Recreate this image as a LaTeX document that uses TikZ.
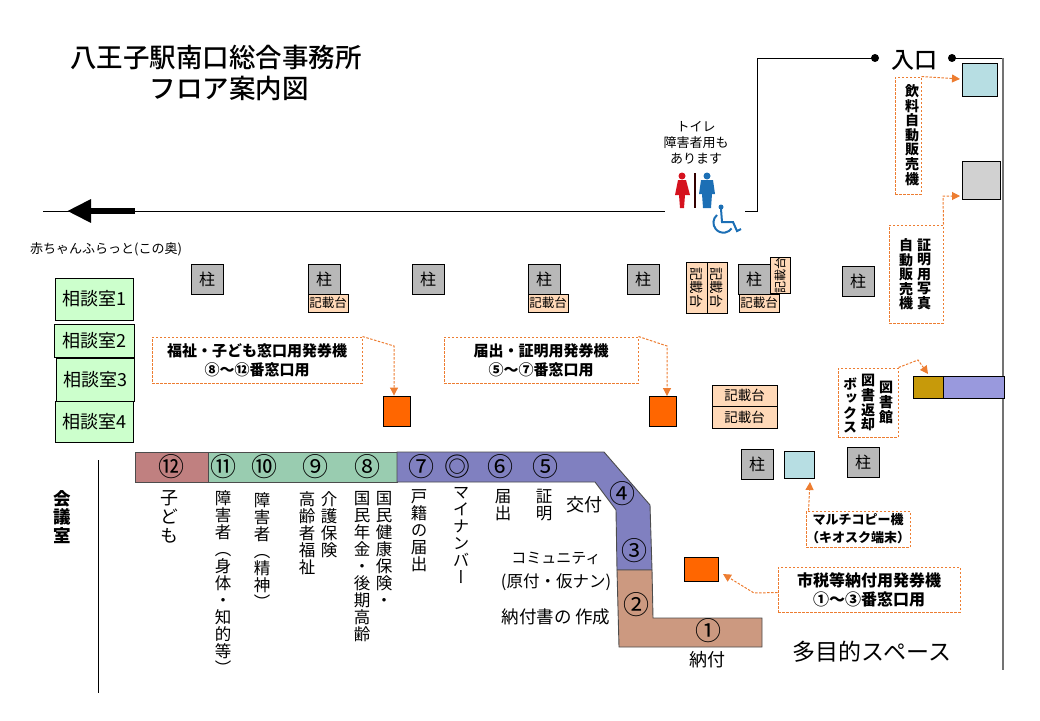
\documentclass[tikz,border=0pt]{standalone}
\usepackage{fontspec}
\setmainfont{Noto Sans CJK JP}
\newfontfamily\jpv[RawFeature=+vert]{Noto Sans CJK JP}
\newfontfamily\jpm{Noto Sans CJK JP Medium}
\usetikzlibrary{arrows.meta}
\definecolor{notecol}{HTML}{ED7D31}
\definecolor{ticketcol}{HTML}{FF6600}
\definecolor{deskcol}{HTML}{FFD9B8}
\definecolor{roomcol}{HTML}{CCFFCC}
\definecolor{pillarcol}{HTML}{B8B8B8}
\definecolor{aquacol}{HTML}{B7DEE3}
\definecolor{goldcol}{HTML}{C79A0A}
\definecolor{lilaccol}{HTML}{9999DD}
\definecolor{redcol}{HTML}{C08080}
\definecolor{greencol}{HTML}{99CCB0}
\definecolor{bluecol}{HTML}{8080C0}
\definecolor{browncol}{HTML}{CC9980}
\definecolor{womancol}{HTML}{D5121E}
\definecolor{mancol}{HTML}{1C6FB5}

\begin{document}
\begin{tikzpicture}[x=1pt,y=-1pt,line width=0.9pt,
  every node/.style={inner sep=0pt},
  wall/.style={line width=1pt,black},
  pillar/.style={rectangle,draw=black,fill=pillarcol,minimum width=32pt,minimum height=30pt,font=\fontsize{16}{18}\selectfont},
  desk/.style={rectangle,draw=black,fill=deskcol,font=\fontsize{12.5}{14}\selectfont},
  room/.style={rectangle,draw=black,fill=roomcol,minimum width=78pt,font=\fontsize{18}{20}\selectfont},
  ticket/.style={rectangle,draw=black,fill=ticketcol,minimum width=27pt,minimum height=30pt},
  note/.style={rectangle,draw,color=notecol,text=black,line width=1pt,dash pattern=on 2.5pt off 1.5pt,align=center,font=\fontsize{15}{19}\selectfont\bfseries},
  notearrow/.style={draw=notecol,line width=1pt,dash pattern=on 2.5pt off 1.5pt,-{Triangle[length=8pt,width=8pt]}},
  num/.style={font=\fontsize{26}{28}\selectfont},
  vlabel/.style={anchor=north,align=center,font=\jpv\fontsize{16.5}{17}\selectfont},
  vnote/.style={anchor=north,align=center,font=\jpv\bfseries\fontsize{14}{14.6}\selectfont},
  label/.style={font=\fontsize{16}{18}\selectfont}]

\useasboundingbox (0,0) rectangle (1040,720);

% Titolo
\node (title1) at (216,57) {\fontsize{26.5}{28}\selectfont\jpm 八王子駅南口総合事務所};
\node (title2) at (229,88) {\fontsize{26.5}{28}\selectfont\jpm フロア案内図};

% Pareti e ingresso
\node (entry) at (914,60) {\fontsize{23}{25}\selectfont\jpm 入口};
\fill (875,58) circle (4pt) coordinate (dotl);
\fill (952,58) circle (4pt) coordinate (dotr);
\coordinate (wallcornerl) at (757,58);
\coordinate (wallstub) at (757,211);
\coordinate (wallstubend) at (745,211);
\coordinate (wallcornerr) at (1003,58);
\coordinate (wallbottom) at (1003,670);
\coordinate (corridorl) at (43,211);
\coordinate (corridorr) at (665,211);
\coordinate (arrowa) at (135,211);
\coordinate (arrowb) at (67,211);
\coordinate (meetingtop) at (98,460);
\coordinate (meetingbottom) at (98,693);
\draw[wall] (dotl) -- (wallcornerl) -- (wallstub) -- (wallstubend);
\draw[wall] (dotr) -- (wallcornerr);
\draw[line width=1.5pt,black!55] (wallcornerr) -- (wallbottom);
\draw[wall] (corridorl) -- (corridorr);
\draw[line width=6pt,-{Triangle[length=24pt,width=22pt]}] (arrowa) -- (arrowb);
\draw[wall] (meetingtop) -- (meetingbottom);

% Toilette
\node[align=center,font=\fontsize{13}{16}\selectfont] (toilet) at (696,143) {トイレ\\障害者用も\\あります};
\fill[womancol] (682,176) circle (3.5pt);
\fill[womancol] (678,180) -- (686,180) -- (690,195) -- (685,195) -- (684,208) -- (680,208) -- (679,195) -- (675,195) -- cycle;
\fill[black!80!red] (694,173) rectangle (696,208);
\fill[mancol] (707,176) circle (3.5pt);
\fill[mancol] (701,180) -- (713,180) -- (715,194) -- (712,194) -- (711,208) -- (703,208) -- (702,194) -- (699,194) -- cycle;
\fill[mancol] (721,207) circle (2.5pt);
\draw[mancol,line width=2pt] (721,209) -- (722,222) -- (733,222) -- (737,231) -- (741,229);
\draw[mancol,line width=2pt] (717,215) arc[start angle=130,end angle=325,radius=10pt];

% Pilastri e banchi
\node[pillar] (pillar1) at (207,279) {柱};
\node[pillar] (pillar2) at (324,279) {柱};
\node[pillar] (pillar3) at (428,279) {柱};
\node[pillar] (pillar4) at (544,279) {柱};
\node[pillar] (pillar5) at (643,279) {柱};
\node[pillar] (pillar6) at (754,279) {柱};
\node[pillar] (pillar7) at (858,281) {柱};
\node[pillar] (pillar8) at (757,464) {柱};
\node[pillar] (pillar9) at (863,462) {柱};
\node[desk,minimum width=40pt,minimum height=18pt] (desk1) at (328,303) {記載台};
\node[desk,minimum width=40pt,minimum height=18pt] (desk2) at (548,303) {記載台};
\node[desk,minimum width=40pt,minimum height=18pt] (desk3) at (759,303) {記載台};
\node[desk,minimum width=51pt,minimum height=21pt,rotate=-90,font=\fontsize{13.5}{15}\selectfont] (desk4) at (696.5,287.5) {記載台};
\node[desk,minimum width=51pt,minimum height=20pt,rotate=-90,font=\fontsize{13.5}{15}\selectfont] (desk5) at (717,287.5) {記載台};
\node[desk,minimum width=36pt,minimum height=20pt,rotate=90,font=\fontsize{12}{14}\selectfont] (desk6) at (780,275) {記載台};
\node[desk,minimum width=65pt,minimum height=21pt,font=\fontsize{13.5}{15}\selectfont] (desk7) at (744.5,395.5) {記載台};
\node[desk,minimum width=65pt,minimum height=22pt,font=\fontsize{13.5}{15}\selectfont] (desk8) at (744.5,417) {記載台};

% Sale
\node (baby) at (106,249) {\fontsize{13}{15}\selectfont 赤ちゃんふらっと(この奥)};
\node[room,minimum height=42pt] (room1) at (94,299) {相談室1};
\node[room,minimum height=33pt,minimum width=80pt] (room2) at (94,340.5) {相談室2};
\node[room,minimum height=43pt] (room3) at (95,379.5) {相談室3};
\node[room,minimum height=41pt] (room4) at (94,421.5) {相談室4};
\node[anchor=north,align=center,font=\jpv\bfseries\fontsize{17.5}{18.5}\selectfont] (meeting) at (62,490) {会\\議\\室};

% Macchine
\node[rectangle,draw=black,fill=aquacol,minimum width=35pt,minimum height=33pt] (drink) at (979.5,79.5) {};
\node[rectangle,draw=black,fill=black!18,minimum width=38pt,minimum height=38pt] (photo) at (981,180) {};
\node[rectangle,draw=black,fill=aquacol,minimum width=30pt,minimum height=27pt] (copier) at (799,464.5) {};
\node[rectangle,draw=black,fill=goldcol,minimum width=30pt,minimum height=22pt] (bookbox) at (928,387) {};
\node[rectangle,draw=black,fill=lilaccol,minimum width=61pt,minimum height=22pt] (bookdesk) at (973.5,387) {};
\node[ticket] (ticket1) at (397,411) {};
\node[ticket] (ticket2) at (662.5,411.5) {};
\node[ticket,minimum width=34pt,minimum height=24pt] (ticket3) at (701,569) {};

% Cartelli
\node[note,minimum width=26pt,minimum height=117pt] (drinknote) at (908,135.5) {};
\node[vnote] (drinktext) at (912,84) {飲\\料\\自\\動\\販\\売\\機};
\node[note,minimum width=54pt,minimum height=98pt] (photonote) at (916,274) {};
\node[vnote] (phototext1) at (924,238) {証\\明\\用\\写\\真};
\node[vnote] (phototext2) at (906,238) {自\\動\\販\\売\\機};
\node[note,minimum width=60pt,minimum height=69pt] (booknote) at (868,402.5) {};
\node[vnote] (booktext1) at (886,381) {図\\書\\館};
\node[vnote] (booktext2) at (868,374) {図\\書\\返\\却};
\node[vnote] (booktext3) at (850,377) {ボ\\ッ\\ク\\ス};
\node[note,minimum width=210pt,minimum height=46pt] (welfarenote) at (257,360) {福祉・子ども窓口用発券機\\⑧～⑫番窓口用};
\node[note,minimum width=194pt,minimum height=46pt] (certnote) at (541,360) {届出・証明用発券機\\⑤～⑦番窓口用};
\node[note,minimum width=98pt,minimum height=36pt,font=\fontsize{13}{18}\selectfont\bfseries] (copynote) at (858,529) {マルチコピー機\\（キオスク端末）};
\node[note,minimum width=182pt,minimum height=45pt,font=\fontsize{16}{19}\selectfont\bfseries] (taxnote) at (869,589.5) {市税等納付用発券機\\①～③番窓口用};

% Frecce dei cartelli
\coordinate (welfarebend) at (394,346);
\coordinate (certbend) at (667,346);
\coordinate (photobend) at (943,196);
\coordinate (bookbend) at (918,360);
\coordinate (taxbend) at (754,593);
\coordinate (drinktip) at (960,79);
\coordinate (phototip) at (960,196);
\coordinate (booktip) at (928,374);
\coordinate (copiertip) at (810,482);
\coordinate (taxtip) at (723,574);
\draw[notearrow] (drinknote.north east) -- (drinktip);
\draw[notearrow] (photonote.north east) -- (photobend) -- (phototip);
\draw[notearrow] (booknote.north east) -- (bookbend) -- (booktip);
\draw[notearrow] (welfarenote.north east) -- (welfarebend) -- (ticket1.north -| welfarebend);
\draw[notearrow] (certnote.north east) -- (certbend) -- (ticket2.north -| certbend);
\draw[notearrow] (copynote.north west) ++(3,0) -- (copiertip);
\draw[notearrow] (taxnote.west) ++(0,3) -- (taxbend) -- (taxtip);

% Sportelli
\fill[redcol,draw=black!70] (135,452) rectangle (208,482);
\fill[greencol,draw=black!70] (208,452) rectangle (397,482);
\fill[bluecol,draw=black!70] (397,452) -- (604,452) -- (650,505) -- (652,570) -- (617,570) -- (616,510) -- (595,482) -- (397,482) -- cycle;
\fill[browncol,draw=black!70] (617,570) -- (652,570) -- (653,618) -- (762,618) -- (762,647) -- (619,647) -- cycle;

% Numeri
\node[num] (n12) at (171,467) {⑫};
\node[num] (n11) at (223,467) {⑪};
\node[num] (n10) at (264,467) {⑩};
\node[num] (n9) at (315,467) {⑨};
\node[num] (n8) at (367,467) {⑧};
\node[num] (n7) at (421,467) {⑦};
\node[num] (nmy) at (457,467) {◎};
\node[num] (n6) at (500,467) {⑥};
\node[num] (n5) at (545,467) {⑤};
\node[num] (n4) at (622,494) {④};
\node[num] (n3) at (634,551) {③};
\node[num] (n2) at (636,605) {②};
\node[num] (n1) at (708,631) {①};

% Etichette verticali
\node[vlabel,font=\jpv\fontsize{18}{19}\selectfont] (child) at (169,490) {子\\ど\\も};
\node[vlabel] (disabled1) at (223,490) {障\\害\\者\\（\\身\\体\\・\\知\\的\\等\\）};
\node[vlabel] (disabled2) at (262,492) {障\\害\\者\\（\\精\\神\\）};
\node[vlabel] (elderly) at (307,491) {高\\齢\\者\\福\\祉};
\node[vlabel] (care) at (329,491) {介\\護\\保\\険};
\node[vlabel] (pension) at (362,491) {国\\民\\年\\金\\・\\後\\期\\高\\齢};
\node[vlabel] (health) at (384,491) {国\\民\\健\\康\\保\\険\\・};
\node[vlabel] (family) at (419,489) {戸\\籍\\の\\届\\出};
\node[vlabel] (mynumber) at (461,487) {マ\\イ\\ナ\\ン\\バ\\ー};
\node[vlabel] (report) at (503,489) {届\\出};
\node[vlabel] (cert) at (544,489) {証\\明};

% Etichette orizzontali
\node[label,font=\fontsize{18}{20}\selectfont] (issue) at (584,505) {交付};
\node[label,font=\fontsize{15}{17}\selectfont] (community) at (556,558) {コミュニティ};
\node[label,font=\fontsize{16.5}{18}\selectfont] (genpu) at (556,582) {(原付・仮ナン)};
\node[label,font=\fontsize{17.5}{19}\selectfont] (taxform) at (556,617) {納付書の 作成};
\node[label,font=\fontsize{18}{20}\selectfont] (pay) at (707,660) {納付};
\node (space) at (872,652) {\fontsize{23}{25}\selectfont 多目的スペース};

\end{tikzpicture}
\end{document}
